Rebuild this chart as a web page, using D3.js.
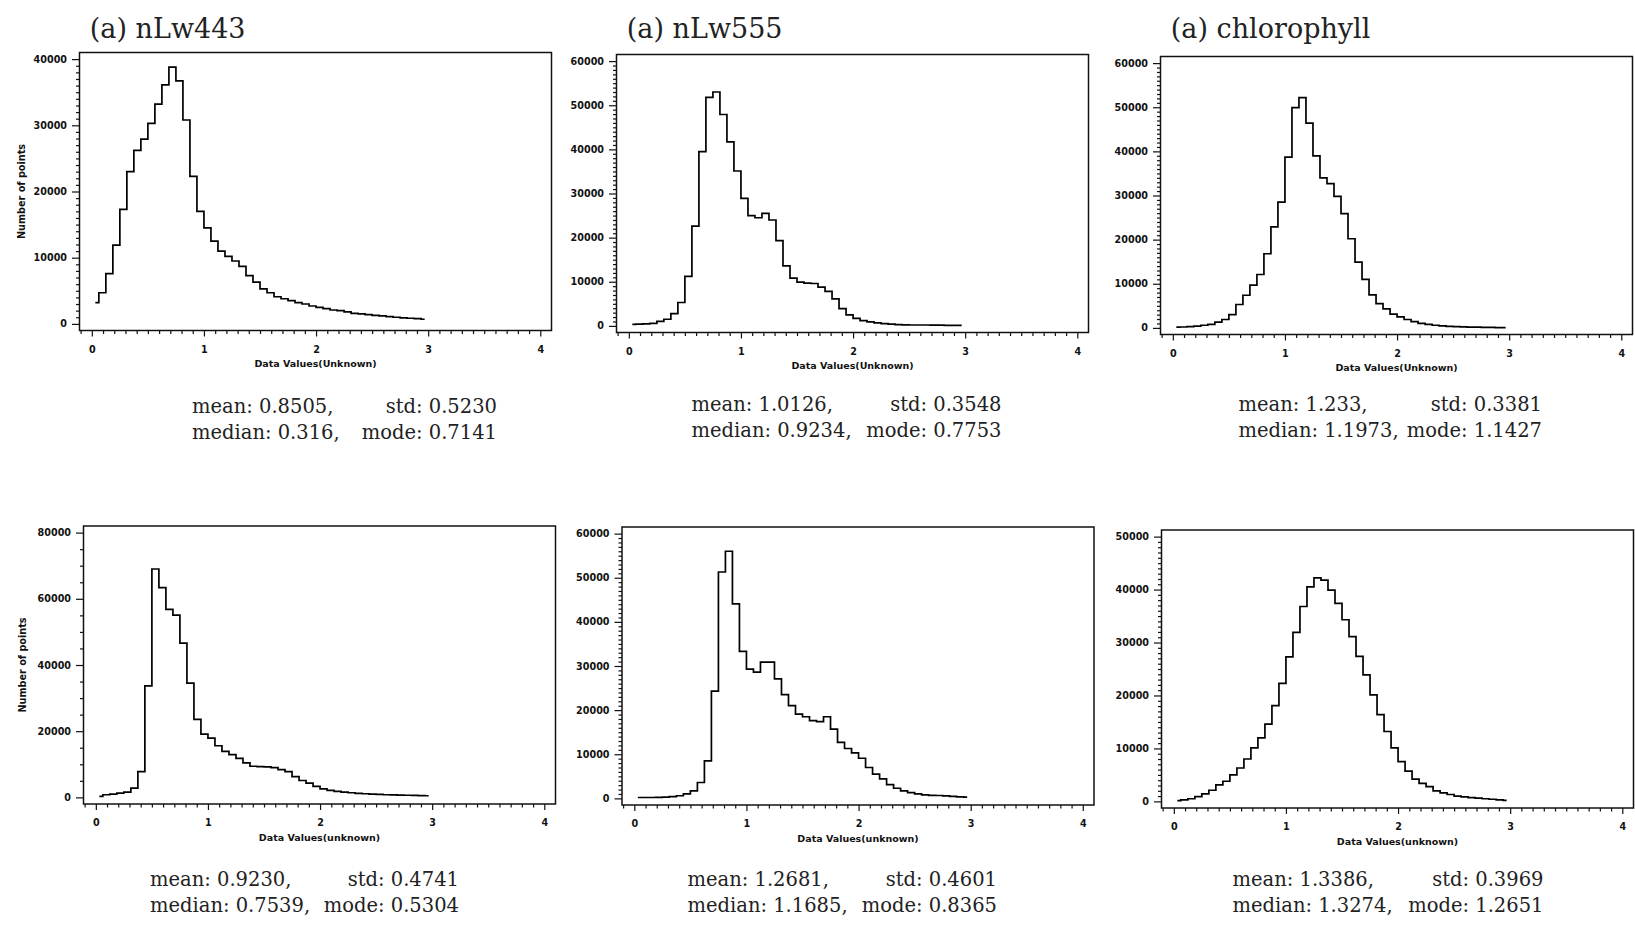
<!DOCTYPE html>
<html>
<head>
<meta charset="utf-8">
<script src="https://cdn.jsdelivr.net/npm/d3@7"></script>
<style>
  html, body { margin: 0; padding: 0; background: #ffffff; }
  svg { display: block; }
</style>
</head>
<body>
<svg id="fig" width="1635" height="927"></svg>
<script>
// ---- Histogram data: 48 bins of width 1/16 covering 0..3 ----
const binWidth = 0.0625;

const counts443a = [3200, 4700, 7600, 11900, 17300, 23000, 26200, 27900, 30300, 33200, 36100, 38800,
  36700, 30800, 22300, 17000, 14500, 12500, 11000, 10200, 9500, 8700, 7300, 6300,
  5300, 4700, 4100, 3800, 3500, 3200, 3000, 2700, 2500, 2300, 2100, 2000,
  1800, 1600, 1500, 1400, 1300, 1200, 1100, 1000, 900, 850, 800, 700];

const counts555a = [350, 400, 450, 550, 1000, 1500, 2800, 5300, 11200, 22600, 39500, 51800,
  53000, 47900, 41700, 35100, 28900, 25000, 24500, 25500, 24000, 19300, 13600, 10800,
  9900, 9700, 9600, 8800, 7800, 6100, 3900, 2500, 1700, 1200, 900, 700,
  500, 400, 300, 250, 200, 200, 200, 150, 150, 100, 100, 100];

const countsChlA = [150, 200, 300, 400, 600, 800, 1300, 1900, 3000, 5300, 7400, 9700,
  12100, 16800, 22900, 28500, 38700, 49900, 52200, 46400, 39000, 34000, 32700, 29800,
  25900, 20200, 14900, 11000, 7500, 5500, 4300, 3100, 2500, 1900, 1400, 1000,
  800, 600, 450, 350, 280, 220, 180, 150, 120, 100, 80, 60];

const counts443b = [300, 800, 1000, 1300, 1600, 2800, 7800, 33700, 69000, 63400, 56800, 55100,
  46600, 34500, 23600, 19100, 17900, 15600, 13900, 12900, 11800, 10400, 9400, 9300,
  9200, 9000, 8400, 7800, 6300, 5100, 4300, 3300, 2600, 2100, 1800, 1600,
  1400, 1200, 1100, 1000, 900, 800, 750, 700, 650, 600, 550, 500];

const counts555b = [200, 200, 200, 250, 300, 400, 600, 1000, 1700, 3600, 8500, 24300,
  51300, 56000, 44100, 33300, 29300, 28600, 30900, 30900, 27100, 23500, 21000, 19100,
  18500, 17600, 17400, 18500, 15700, 12700, 11300, 10300, 9100, 7000, 5500, 4400,
  3100, 2300, 1700, 1300, 1000, 800, 700, 650, 550, 450, 350, 300];

const countsChlB = [150, 300, 500, 900, 1400, 2100, 3100, 3800, 5000, 6300, 8000, 10100,
  12000, 14600, 18100, 22300, 27300, 31900, 36800, 40500, 42200, 41800, 39900, 37400,
  34300, 31100, 27400, 23900, 20100, 16400, 13200, 10100, 7500, 5700, 4200, 3400,
  2800, 2000, 1600, 1300, 1000, 850, 700, 600, 500, 400, 300, 200];

// ---- Labels and axis ticks ----
const panelTitles = ["(a) nLw443", "(a) nLw555", "(a) chlorophyll", "", "", ""];
const xAxisTitles = ["Data Values(Unknown)", "Data Values(Unknown)", "Data Values(Unknown)",
                     "Data Values(unknown)", "Data Values(unknown)", "Data Values(unknown)"];
const yAxisTitle = "Number of points";
const xTickValues = [0, 1, 2, 3, 4];
const yTickTop = [40000, 60000, 60000, 80000, 60000, 50000];
const yTickStep = [10000, 10000, 10000, 20000, 10000, 10000];
const yMinorStep = [1000, 1000, 1000, 5000, 1000, 1000];

const statMean   = ["0.8505", "1.0126", "1.233",  "0.9230", "1.2681", "1.3386"];
const statStd    = ["0.5230", "0.3548", "0.3381", "0.4741", "0.4601", "0.3969"];
const statMedian = ["0.316",  "0.9234", "1.1973", "0.7539", "1.1685", "1.3274"];
const statMode   = ["0.7141", "0.7753", "1.1427", "0.5304", "0.8365", "1.2651"];

const series = [counts443a, counts555a, countsChlA, counts443b, counts555b, countsChlB];

// ---- Layout (pixels) ----
const plotW = 472, plotH = 278;
const layout = [
  { left: 79.5,   top: 52.5, statsL: 192,    statsR: 497,    statsY: 413, yTitleX: 21.5 },
  { left: 616.5,  top: 54.5, statsL: 691.5,  statsR: 1001.5, statsY: 411 },
  { left: 1160.5, top: 56.5, statsL: 1238.5, statsR: 1542,   statsY: 411 },
  { left: 83.5,   top: 526,  statsL: 150,    statsR: 459,    statsY: 886, yTitleX: 23 },
  { left: 622,    top: 527,  statsL: 687.5,  statsR: 997,    statsY: 886 },
  { left: 1161.5, top: 530,  statsL: 1232.5, statsR: 1543.5, statsY: 886 }
];
const statsLineGap = 25.5;
const xDomain = [-0.11, 4.1];
const yPad = 0.025;

const serif = "'DejaVu Serif', 'Liberation Serif', serif";
const sans = "'DejaVu Sans', 'Liberation Sans', sans-serif";
const ink = "#111";
const textInk = "#222";

const svg = d3.select("#fig");

series.forEach((counts, i) => {
  const L = layout[i];
  const g = svg.append("g").attr("transform", `translate(${L.left},${L.top})`);

  const x = d3.scaleLinear().domain(xDomain).range([0, plotW]);
  const top = yTickTop[i];
  const y = d3.scaleLinear().domain([-yPad * top, (1 + yPad) * top]).range([plotH, 0]);

  // frame
  g.append("rect")
    .attr("x", 0).attr("y", 0).attr("width", plotW).attr("height", plotH)
    .attr("fill", "none").attr("stroke", ink).attr("stroke-width", 1.5);

  // x axis: minor ticks every 0.1, major ticks on integers
  const xMinor = d3.range(-1, 42).map(k => k / 10).filter(v => v > xDomain[0] && v < xDomain[1] && Math.abs(v - Math.round(v)) > 1e-6);
  const gxMinor = g.append("g").attr("transform", `translate(0,${plotH})`)
    .call(d3.axisBottom(x).tickValues(xMinor).tickSize(3.5).tickSizeOuter(0).tickFormat(""));
  const gx = g.append("g").attr("transform", `translate(0,${plotH})`)
    .call(d3.axisBottom(x).tickValues(xTickValues).tickSize(6).tickSizeOuter(0).tickFormat(d3.format("d")));
  [gxMinor, gx].forEach(a => {
    a.select(".domain").remove();
    a.selectAll("line").attr("stroke", ink).attr("stroke-width", 1.2);
  });
  gx.selectAll("text")
    .attr("y", 22).attr("dy", null)
    .attr("fill", ink).attr("font-family", sans).attr("font-weight", "bold").attr("font-size", 9.6);

  // y axis: minor and major ticks pointing outward
  const yMinor = d3.range(0, top + 1, yMinorStep[i]).filter(v => v % yTickStep[i] !== 0);
  const yMajor = d3.range(0, top + 1, yTickStep[i]);
  const gyMinor = g.append("g")
    .call(d3.axisLeft(y).tickValues(yMinor).tickSize(3.5).tickSizeOuter(0).tickFormat(""));
  const gy = g.append("g")
    .call(d3.axisLeft(y).tickValues(yMajor).tickSize(7.5).tickPadding(5).tickSizeOuter(0).tickFormat(d3.format("d")));
  [gyMinor, gy].forEach(a => {
    a.select(".domain").remove();
    a.selectAll("line").attr("stroke", ink).attr("stroke-width", 1.2);
  });
  gy.selectAll("text")
    .attr("fill", ink).attr("font-family", sans).attr("font-weight", "bold").attr("font-size", 9.6);

  // histogram drawn as a step line through bin centres
  const pts = counts.map((c, k) => [(k + 0.5) * binWidth, c]);
  const line = d3.line().x(d => x(d[0])).y(d => y(d[1])).curve(d3.curveStep);
  g.append("path")
    .attr("d", line(pts))
    .attr("fill", "none").attr("stroke", "#000").attr("stroke-width", 1.7)
    .attr("stroke-linejoin", "miter");

  // x axis title
  g.append("text")
    .attr("x", plotW / 2).attr("y", plotH + 36.5)
    .attr("text-anchor", "middle")
    .attr("fill", ink).attr("font-family", sans).attr("font-weight", "bold").attr("font-size", 9.5)
    .text(xAxisTitles[i]);

  // y axis title on the left column only
  if (L.yTitleX !== undefined) {
    svg.append("text")
      .attr("transform", `translate(${L.yTitleX},${L.top + plotH / 2}) rotate(-90)`)
      .attr("text-anchor", "middle").attr("dy", "0.35em")
      .attr("fill", ink).attr("font-family", sans).attr("font-weight", "bold").attr("font-size", 9.7)
      .text(yAxisTitle);
  }

  // panel title
  if (panelTitles[i]) {
    svg.append("text")
      .attr("x", L.left + x(0) - 2).attr("y", 37.5)
      .attr("fill", textInk).attr("font-family", serif).attr("font-size", 27)
      .text(panelTitles[i]);
  }

  // summary statistics below the plot
  const statRows = [
    [`mean: ${statMean[i]},`, `std: ${statStd[i]}`],
    [`median: ${statMedian[i]},`, `mode: ${statMode[i]}`]
  ];
  statRows.forEach((row, r) => {
    const yy = L.statsY + r * statsLineGap;
    svg.append("text")
      .attr("x", L.statsL).attr("y", yy)
      .attr("fill", textInk).attr("font-family", serif).attr("font-size", 19.5)
      .text(row[0]);
    svg.append("text")
      .attr("x", L.statsR).attr("y", yy).attr("text-anchor", "end")
      .attr("fill", textInk).attr("font-family", serif).attr("font-size", 19.5)
      .text(row[1]);
  });
});
</script>
</body>
</html>
